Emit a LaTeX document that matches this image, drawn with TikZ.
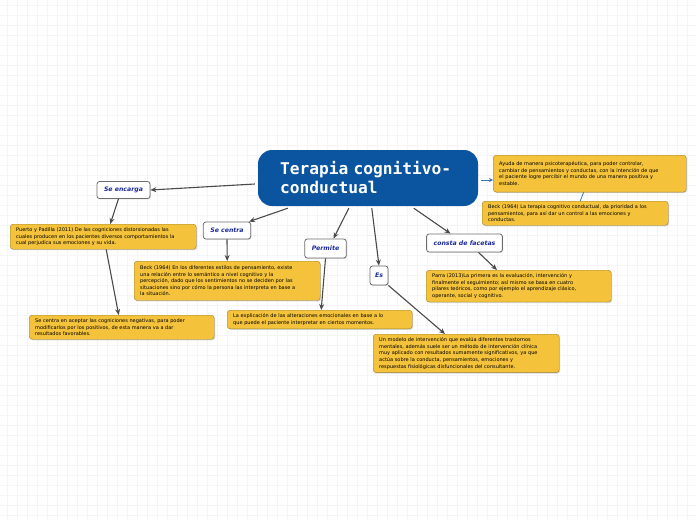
\documentclass[tikz,border=0pt]{standalone}
\usepackage{fontspec}
\setmainfont{DejaVu Sans}
\newfontfamily\titlefont{DejaVu Sans Mono}
\usepackage{tikz}
\usetikzlibrary{arrows.meta}
\usetikzlibrary{shadows}
\definecolor{topicblue}{HTML}{0B55A0}
\definecolor{notegold}{HTML}{F4C33B}
\definecolor{noteedge}{HTML}{9C8236}
\definecolor{labelblue}{HTML}{1B2A9A}
\definecolor{linkgray}{HTML}{4A4A4A}
\definecolor{linkblue}{HTML}{3A78B8}
\definecolor{gridgray}{HTML}{F5F5F5}
\tikzset {
  % central topic
  topic/.style = {fill=topicblue, text=white, rounded corners=14pt,
    minimum width=220pt, minimum height=56pt, inner xsep=22pt,
    text width=176pt, align=left, font=\titlefont\bfseries\fontsize{16.2}{19}\selectfont},
  % white boxes with the relation names
  relation/.style = {draw=linkgray!80, fill=white, thick, rounded corners=2.5pt,
    minimum height=17pt, inner xsep=7pt, text=labelblue,
    font=\bfseries\itshape\fontsize{6.2}{7}\selectfont,
    drop shadow={shadow xshift=0.8pt, shadow yshift=-0.8pt, opacity=.25}},
  % yellow notes
  note/.style = {draw=noteedge, fill=notegold, rounded corners=3pt,
    anchor=north west, inner xsep=6pt, inner ysep=3.5pt, align=left,
    font=\fontsize{5}{6.6}\selectfont,
    drop shadow={shadow xshift=1pt, shadow yshift=-1pt, opacity=.3}},
  % connectors
  link/.style = {draw=linkgray, line width=1.1pt, -{Stealth[length=6pt, width=5pt]}},
  sidelink/.style = {draw=linkblue, line width=0.8pt},
  gridline/.style = {draw=gridgray, line width=0.5pt},
}
\begin{document}
\begin{tikzpicture}[x=1pt, y=-1pt]
  \useasboundingbox (0,0) rectangle (696,520);
  \fill[white] (0,0) rectangle (696,520);
  \foreach \gx in {7,17,...,697} \draw[gridline] (\gx,0) -- (\gx,520);
  \foreach \gy in {5,15,...,515} \draw[gridline] (0,\gy) -- (696,\gy);

  \node[topic] (terapia) at (368,178) {Terapia cognitivo-\\conductual};

  % right side
  \node[note, text width=181pt, inner ysep=6.5pt] (ayuda) at (493,155) {Ayuda de manera psicoterapéutica, para poder controlar,\\cambiar de pensamientos y conductas, con la intención de que\\el paciente logre percibir el mundo de una manera positiva y\\estable.};
  \node[note, text width=174pt] (beckTcc) at (482,201) {Beck (1964) La terapia cognitivo conductual, da prioridad a los\\pensamientos, para así dar un control a las emociones y\\conductas.};

  % relations
  \node[relation] (encarga) at (123.5,190) {Se encarga};
  \node[relation] (centra) at (227,230.5) {Se centra};
  \node[relation, minimum height=19pt] (permite) at (325.5,248.5) {Permite};
  \node[relation, minimum height=19pt, inner xsep=5pt] (es) at (379,275.5) {Es};
  \node[relation, minimum height=18pt] (facetas) at (464.5,243) {consta de facetas};

  % notes
  \node[note, text width=174pt] (puerto) at (10,224) {Puerto y Padilla (2011) De las cogniciones distorsionadas las\\cuales producen en los pacientes diversos comportamientos la\\cual perjudica sus emociones y su vida.};
  \node[note, text width=173pt] (aceptar) at (29,315) {Se centra en aceptar las cogniciones negativas, para poder\\modificarlos por los positivos, de esta manera va a dar\\resultados favorables.};
  \node[note, text width=174pt, inner ysep=4.5pt] (beckEstilos) at (134,261) {Beck (1964) En los diferentes estilos de pensamiento, existe\\una relación entre lo semántico a nivel cognitivo y la\\percepción, dado que los sentimientos no se deciden por las\\situaciones sino por cómo la persona las interpreta en base a\\la situación.};
  \node[note, text width=173pt] (explica) at (227,310) {La explicación de las alteraciones emocionales en base a lo\\que puede el paciente interpretar en ciertos momentos.};
  \node[note, text width=174pt] (modelo) at (373,334) {Un modelo de intervención que evalúa diferentes trastornos\\mentales, además suele ser un método de intervención clínica\\muy aplicado con resultados sumamente significativos, ya que\\actúa sobre la conducta, pensamientos, emociones y\\respuestas fisiológicas disfuncionales del consultante.};
  \node[note, text width=173pt] (parra) at (426,270) {Parra (2013)La primera es la evaluación, intervención y\\finalmente el seguimiento; así mismo se basa en cuatro\\pilares teóricos, como por ejemplo el aprendizaje clásico,\\operante, social y cognitivo.};

  % connectors
  \draw[sidelink, -{Stealth[length=4pt, width=4pt]}] ([xshift=3pt, yshift=-2pt]terapia.east) -- ([yshift=-2pt]terapia.east -| ayuda.west);
  \draw[sidelink] ([xshift=-6pt]ayuda.south) -- ([xshift=5pt]beckTcc.north);
  \draw[link] ([xshift=-3pt, yshift=-6pt]terapia.west) -- (encarga.east);
  \draw[link] ([xshift=-5pt]encarga.south) -- ([xshift=7pt]puerto.north);
  \draw[link] ([xshift=3pt]puerto.south) -- ([xshift=-3pt]aceptar.north);
  \draw[link] ([xshift=30pt, yshift=-2pt]terapia.south west) -- ([xshift=-2pt]centra.north east);
  \draw[link] (centra.south) -- (beckEstilos.north);
  \draw[link] ([xshift=91pt, yshift=-2pt]terapia.south west) -- ([xshift=8pt]permite.north);
  \draw[link] (permite.south) -- ([xshift=1.5pt]explica.north);
  \draw[link] ([xshift=114pt, yshift=-2pt]terapia.south west) -- (es.north);
  \draw[link] (es.south east) -- ([xshift=72pt]modelo.north west);
  \draw[link] ([xshift=156pt, yshift=-2pt]terapia.south west) -- ([xshift=-14pt]facetas.north);
  \draw[link] ([xshift=14pt]facetas.south) -- ([xshift=71pt]parra.north west);
\end{tikzpicture}
\end{document}
